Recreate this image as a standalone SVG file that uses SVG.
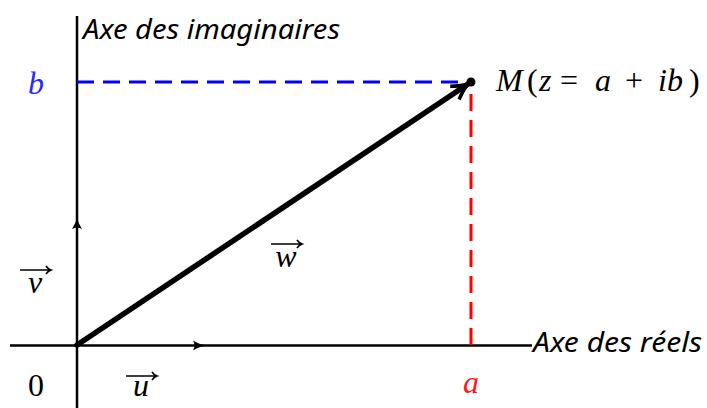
<svg xmlns="http://www.w3.org/2000/svg" width="707" height="408" viewBox="0 0 707 408">
<defs>
<style>
.axis{stroke:#000;stroke-width:2.5;fill:none}
.math{font-family:"Liberation Serif","DejaVu Serif",serif;font-size:32px}
.it{font-style:italic}
.lab{font-family:"Noto Sans","Open Sans",sans-serif;font-style:italic;font-size:27px;fill:#000}
.vec{stroke:#000;stroke-width:1.6;fill:none}
.dash{stroke-width:3;fill:none;stroke-dasharray:17 9}
</style>
<marker id="bigArrow" markerUnits="userSpaceOnUse" viewBox="-20 -10 24 20" markerWidth="24" markerHeight="20" refX="0" refY="0" orient="auto">
<path d="M-16,-8 Q-7,-2 0,0 Q-7,2 -16,8" stroke="#000" stroke-width="3.5" fill="none" stroke-linejoin="round"/>
</marker>
</defs>
<rect width="707" height="408" fill="#fff"/>

<g id="connectors">
<path id="imag-axis" class="axis" d="M77,16 V408"/>
<path id="real-axis" class="axis" d="M10,345.5 H532"/>
<path d="M72,229 Q76,223 77,217 Q78,223 82,229 Q77,226 72,229 Z" fill="#000"/>
<path d="M193,340.5 Q199,344.5 207,345.5 Q199,346.5 193,350.5 Q196,345.5 193,340.5 Z" fill="#000"/>
<path id="dash-b" class="dash" stroke="#0000ff" d="M77,82 H471"/>
<path id="dash-a" class="dash" stroke="#ff0000" d="M471,345 V82"/>
<path id="vector-w" d="M77,345 L468,84" stroke="#000" stroke-width="5.5" stroke-linecap="round" marker-end="url(#bigArrow)"/>
</g>

<g id="node-M">
<circle cx="471" cy="82" r="4.5" fill="#000"/>
<text class="math" y="91" font-size="34"><tspan class="it" x="496">M</tspan><tspan x="527">(</tspan><tspan class="it" x="539">z</tspan><tspan x="560">=</tspan><tspan class="it" x="595">a</tspan><tspan x="625">+</tspan><tspan class="it" x="658">ib</tspan><tspan x="689">)</tspan></text>
</g>

<g id="label-imag">
<text class="lab" x="83" y="39" textLength="257" lengthAdjust="spacingAndGlyphs">Axe des imaginaires</text>
</g>

<g id="label-real">
<text class="lab" x="533" y="352" textLength="169" lengthAdjust="spacingAndGlyphs">Axe des réels</text>
</g>

<g id="label-b">
<text class="math it" x="36" y="94" text-anchor="middle" fill="#2a2aff">b</text>
</g>

<g id="label-a">
<text class="math it" x="471" y="393" text-anchor="middle" fill="#ff1a1a">a</text>
</g>

<g id="label-0">
<text class="math" x="36" y="396" text-anchor="middle" fill="#000" font-size="30">0</text>
</g>

<g id="label-v">
<path class="vec" d="M20,270 H51 M46,266 Q48,269 51,270 Q48,271 46,274"/>
<text class="math it" x="35" y="293" text-anchor="middle">v</text>
</g>

<g id="label-u">
<path class="vec" d="M126,376 H157 M152,372 Q154,375 157,376 Q154,377 152,380"/>
<text class="math it" x="141" y="396" text-anchor="middle">u</text>
</g>

<g id="label-w">
<path class="vec" d="M271,244 H302 M297,240 Q299,243 302,244 Q299,245 297,248"/>
<text class="math it" x="286" y="267" text-anchor="middle">w</text>
</g>
</svg>
